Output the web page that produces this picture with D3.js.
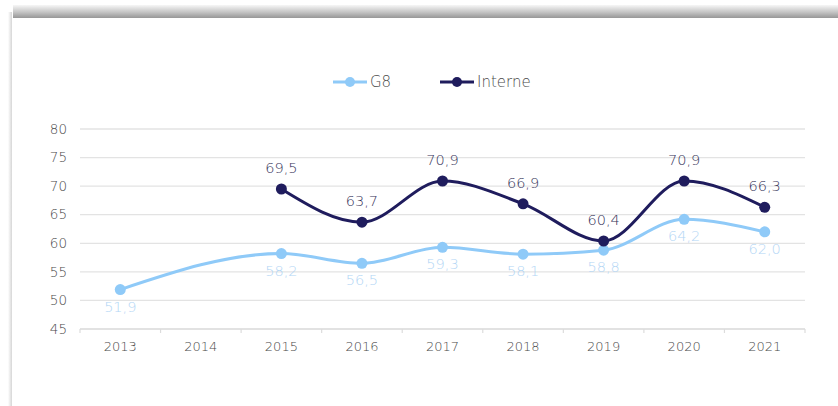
<!DOCTYPE html>
<html>
<head>
<meta charset="utf-8">
<script src="https://cdn.jsdelivr.net/npm/d3@7"></script>
<style>
  body { margin: 0; background: #fff; }
  svg { display: block; font-family: "DejaVu Sans", sans-serif; }
</style>
</head>
<body>
<div class="chart"></div>
<script>
var w = 838,
  h = 406;

// data
var years = ['2013', '2014', '2015', '2016', '2017', '2018', '2019', '2020', '2021'];
var g8Values = [51.9, null, 58.2, 56.5, 59.3, 58.1, 58.8, 64.2, 62.0];
var interneValues = [null, null, 69.5, 63.7, 70.9, 66.9, 60.4, 70.9, 66.3];
var yTicks = [45, 50, 55, 60, 65, 70, 75, 80];

var series = [
  { name: 'G8', values: g8Values, color: '#8fcaf8', labelColor: '#b3d6f5', labelDy: 22 },
  { name: 'Interne', values: interneValues, color: '#1f1c5d', labelColor: '#36345a', labelDy: -16 }
];

var svg = d3.select('.chart')
  .append('svg')
  .attr('width', w)
  .attr('height', h);

// card frame with shadow
var defs = svg.append('defs');
var topGrad = defs.append('linearGradient')
  .attr('id', 'topShadow').attr('x1', 0).attr('x2', 0).attr('y1', 0).attr('y2', 1);
topGrad.append('stop').attr('offset', '0%').attr('stop-color', '#f7f7f7');
topGrad.append('stop').attr('offset', '55%').attr('stop-color', '#c4c4c4');
topGrad.append('stop').attr('offset', '100%').attr('stop-color', '#979797');
var leftGrad = defs.append('linearGradient')
  .attr('id', 'leftShadow').attr('x1', 0).attr('x2', 1).attr('y1', 0).attr('y2', 0);
leftGrad.append('stop').attr('offset', '0%').attr('stop-color', '#ffffff');
leftGrad.append('stop').attr('offset', '100%').attr('stop-color', '#d6d6d6');

svg.append('rect').attr('x', 13).attr('y', 5).attr('width', w - 13).attr('height', 13)
  .attr('fill', 'url(#topShadow)');
svg.append('rect').attr('x', 8).attr('y', 12).attr('width', 4).attr('height', h - 12)
  .attr('fill', 'url(#leftShadow)');
svg.append('rect').attr('x', 12).attr('y', 18).attr('width', w - 12).attr('height', h - 18)
  .attr('fill', '#fff');

var margin = { left: 80, right: 33, top: 129, bottom: 77 };

var x = d3.scaleBand()
  .domain(years)
  .range([margin.left, w - margin.right]);

var y = d3.scaleLinear()
  .domain([45, 80])
  .range([h - margin.bottom, margin.top]);

// gridlines
svg.append('g')
  .selectAll('line')
  .data(yTicks)
  .enter()
  .append('line')
  .attr('x1', margin.left)
  .attr('x2', w - margin.right)
  .attr('y1', function (d) { return y(d); })
  .attr('y2', function (d) { return y(d); })
  .attr('stroke', function (d) { return d === 45 ? '#d9d9d9' : '#e3e3e3'; })
  .attr('stroke-width', 1.3);

// y tick labels
svg.append('g')
  .selectAll('text')
  .data(yTicks)
  .enter()
  .append('text')
  .attr('x', margin.left - 13)
  .attr('y', function (d) { return y(d); })
  .attr('dy', '0.35em')
  .attr('text-anchor', 'end')
  .attr('font-size', 13.5)
  .attr('font-weight', 300)
  .attr('fill', '#4a4a4a')
  .text(function (d) { return d; });

// x axis
var xAxis = d3.axisBottom(x).tickSize(0).tickPadding(13);
var gx = svg.append('g')
  .attr('transform', 'translate(0,' + y(45) + ')')
  .call(xAxis);
gx.select('.domain').remove();
gx.selectAll('text')
  .attr('font-size', 13)
  .attr('font-weight', 300)
  .attr('font-family', '"DejaVu Sans", sans-serif')
  .attr('fill', '#4a4a4a');

// small ticks at band edges
var edges = years.map(function (d) { return x(d); }).concat([w - margin.right]);
svg.append('g')
  .selectAll('line')
  .data(edges)
  .enter()
  .append('line')
  .attr('x1', function (d) { return d; })
  .attr('x2', function (d) { return d; })
  .attr('y1', y(45))
  .attr('y2', y(45) + 4)
  .attr('stroke', '#dcdcdc')
  .attr('stroke-width', 1.2);

var cx = function (i) { return x(years[i]) + x.bandwidth() / 2; };

var line = d3.line()
  .x(function (d) { return cx(d.i); })
  .y(function (d) { return y(d.v); })
  .curve(d3.curveMonotoneX);

series.forEach(function (s) {
  var pts = s.values
    .map(function (v, i) { return { i: i, v: v }; })
    .filter(function (d) { return d.v !== null; });

  svg.append('path')
    .datum(pts)
    .attr('d', line)
    .attr('fill', 'none')
    .attr('stroke', s.color)
    .attr('stroke-width', 3);

  svg.append('g')
    .selectAll('circle')
    .data(pts)
    .enter()
    .append('circle')
    .attr('cx', function (d) { return cx(d.i); })
    .attr('cy', function (d) { return y(d.v); })
    .attr('r', 5.5)
    .attr('fill', s.color);

  svg.append('g')
    .selectAll('text')
    .data(pts)
    .enter()
    .append('text')
    .attr('x', function (d) { return cx(d.i); })
    .attr('y', function (d) { return y(d.v) + s.labelDy; })
    .attr('text-anchor', 'middle')
    .attr('font-size', 14.5)
    .attr('font-weight', 300)
    .attr('fill', s.labelColor)
    .text(function (d) { return d3.format('.1f')(d.v).replace('.', ','); });
});

// legend
var legendPos = [333, 440];
series.forEach(function (s, i) {
  var lx = legendPos[i], ly = 82;
  svg.append('line')
    .attr('x1', lx).attr('x2', lx + 34)
    .attr('y1', ly).attr('y2', ly)
    .attr('stroke', s.color).attr('stroke-width', 3);
  svg.append('circle')
    .attr('cx', lx + 17).attr('cy', ly).attr('r', 5)
    .attr('fill', s.color);
  svg.append('text')
    .attr('x', lx + 37).attr('y', ly)
    .attr('dy', '0.35em')
    .attr('font-size', 15)
    .attr('font-weight', 300)
    .attr('fill', '#4a4a4a')
    .text(s.name);
});
</script>
</body>
</html>
